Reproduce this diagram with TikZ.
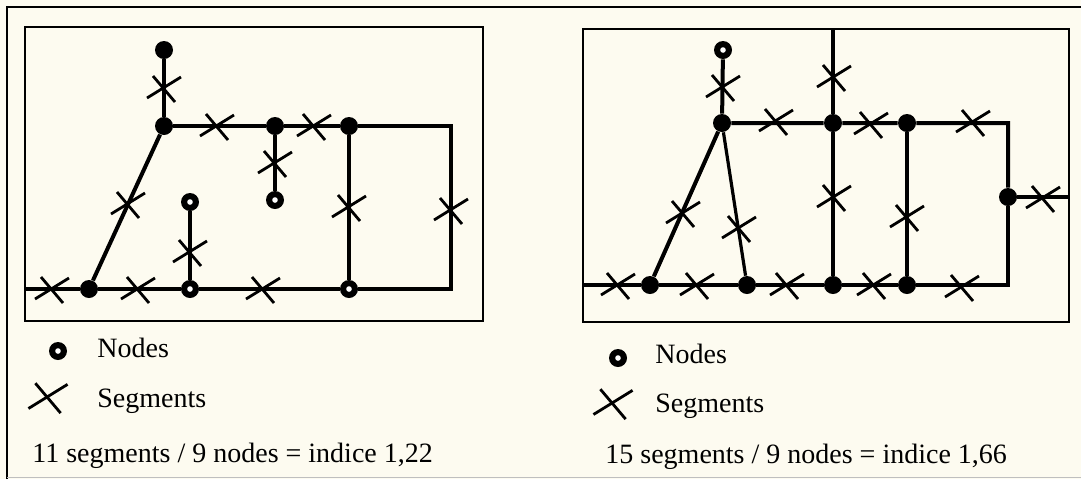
\documentclass[tikz,border=0pt]{standalone}
\usepackage{fontspec}
\setmainfont{Liberation Serif}
\definecolor{papercol}{HTML}{FDFBF0}
\tikzset{
  nd/.style={circle, fill=black, inner sep=0pt, minimum size=9pt},
  ndo/.style={nd, path picture={\fill[white] (path picture bounding box.center) circle (1.4pt);}},
  edge/.style={line width=2pt},
  frame/.style={line width=1.3pt},
  segx/.pic={\draw[line width=1.4pt] (-8.5pt,-5pt) -- (8.5pt,5.5pt) (-5.5pt,6pt) -- (5.5pt,-7pt);},
  lbl/.style={anchor=base west, inner sep=0pt, font=\fontsize{14}{16}\selectfont}
}
\begin{document}
\begin{tikzpicture}[x=0.5pt, y=-0.5pt]
\useasboundingbox[fill=papercol] (0,0) rectangle (1081,479);

% ---------------------------------------------------------------- frames
\draw[frame] (7,479) -- (7,7) -- (1081,7);
\draw[black!25] (7,477) -- (1081,477);
\draw[frame] (25,27) rectangle (483,321);
\draw[frame] (583,29) rectangle (1069,322);

% ------------------------------------------------------- left network
\node[nd]  (lT) at (164,50) {};
\node[nd]  (lA) at (164,126) {};
\node[nd]  (lB) at (275,126) {};
\node[nd]  (lC) at (349,126) {};
\node[ndo] (lP) at (275,200) {};
\node[ndo] (lD) at (190,202) {};
\node[nd]  (lE) at (89,289) {};
\node[ndo] (lF) at (190,289) {};
\node[ndo] (lG) at (349,289) {};
\coordinate (lW) at (25,289);
\coordinate (lK) at (451,126);
\coordinate (lL) at (451,289);

\draw[edge] (lW) -- (lE) -- (lF) -- (lG) -- (lL) -- (lK) -- (lC);
\draw[edge] (lC) -- (lB) -- (lA) -- (lT);
\draw[edge] (lA) -- (lE);
\draw[edge] (lB) -- (lP);
\draw[edge] (lD) -- (lF);
\draw[edge] (lC) -- (lG);

% one cross per segment
\foreach \x/\y in {52/289, 138/289, 263/289, 451/210, 128/204, 164/88,
                   217/126, 314/126, 275/163, 190/252, 349/207}
  \pic at (\x,\y) {segx};

% legend
\node[ndo] (lkey) at (58,351) {};
\pic[scale=1.15] at (48,397) {segx};
\node[lbl] (lnodes) at (97,357) {Nodes};
\node[lbl] (lsegs) at (97,407) {Segments};
\node[lbl] (lsum) at (32,462) {11 segments / 9 nodes = indice 1,22};

% ------------------------------------------------------ right network
\node[ndo] (rT) at (723,50) {};
\node[nd]  (rA) at (722,123) {};
\node[nd]  (rB) at (833,123) {};
\node[nd]  (rC) at (907,123) {};
\node[nd]  (rR) at (1008,197) {};
\node[nd]  (rE) at (650,285) {};
\node[nd]  (rF) at (747,285) {};
\node[nd]  (rG) at (833,285) {};
\node[nd]  (rH) at (907,285) {};
\coordinate (rW) at (583,285);
\coordinate (rV) at (833,29);
\coordinate (rK) at (1008,123);
\coordinate (rL) at (1008,285);
\coordinate (rX) at (1069,197);

\draw[edge] (rW) -- (rE) -- (rF) -- (rG) -- (rH) -- (rL) -- (rR);
\draw[edge] (rR) -- (rK) -- (rC) -- (rB) -- (rA) -- (rT);
\draw[edge] (rA) -- (rE);
\draw[edge, line width=1.6pt] (rA) -- (rF);
\draw[edge] (rV) -- (rB) -- (rG);
\draw[edge] (rC) -- (rH);
\draw[edge] (rR) -- (rX);

\foreach \x/\y in {618/285, 697/285, 787/285, 874/285, 962/287, 683/213,
                   739/228, 723/87, 776/121, 834/77, 871/124, 973/122,
                   1043/198, 834/197, 907/217}
  \pic at (\x,\y) {segx};

% legend
\node[ndo] (rkey) at (618,358) {};
\pic[scale=1.15] at (613,403) {segx};
\node[lbl] (rnodes) at (655,363) {Nodes};
\node[lbl] (rsegs) at (655,412) {Segments};
\node[lbl] (rsum) at (605,463) {15 segments / 9 nodes = indice 1,66};

\end{tikzpicture}
\end{document}
